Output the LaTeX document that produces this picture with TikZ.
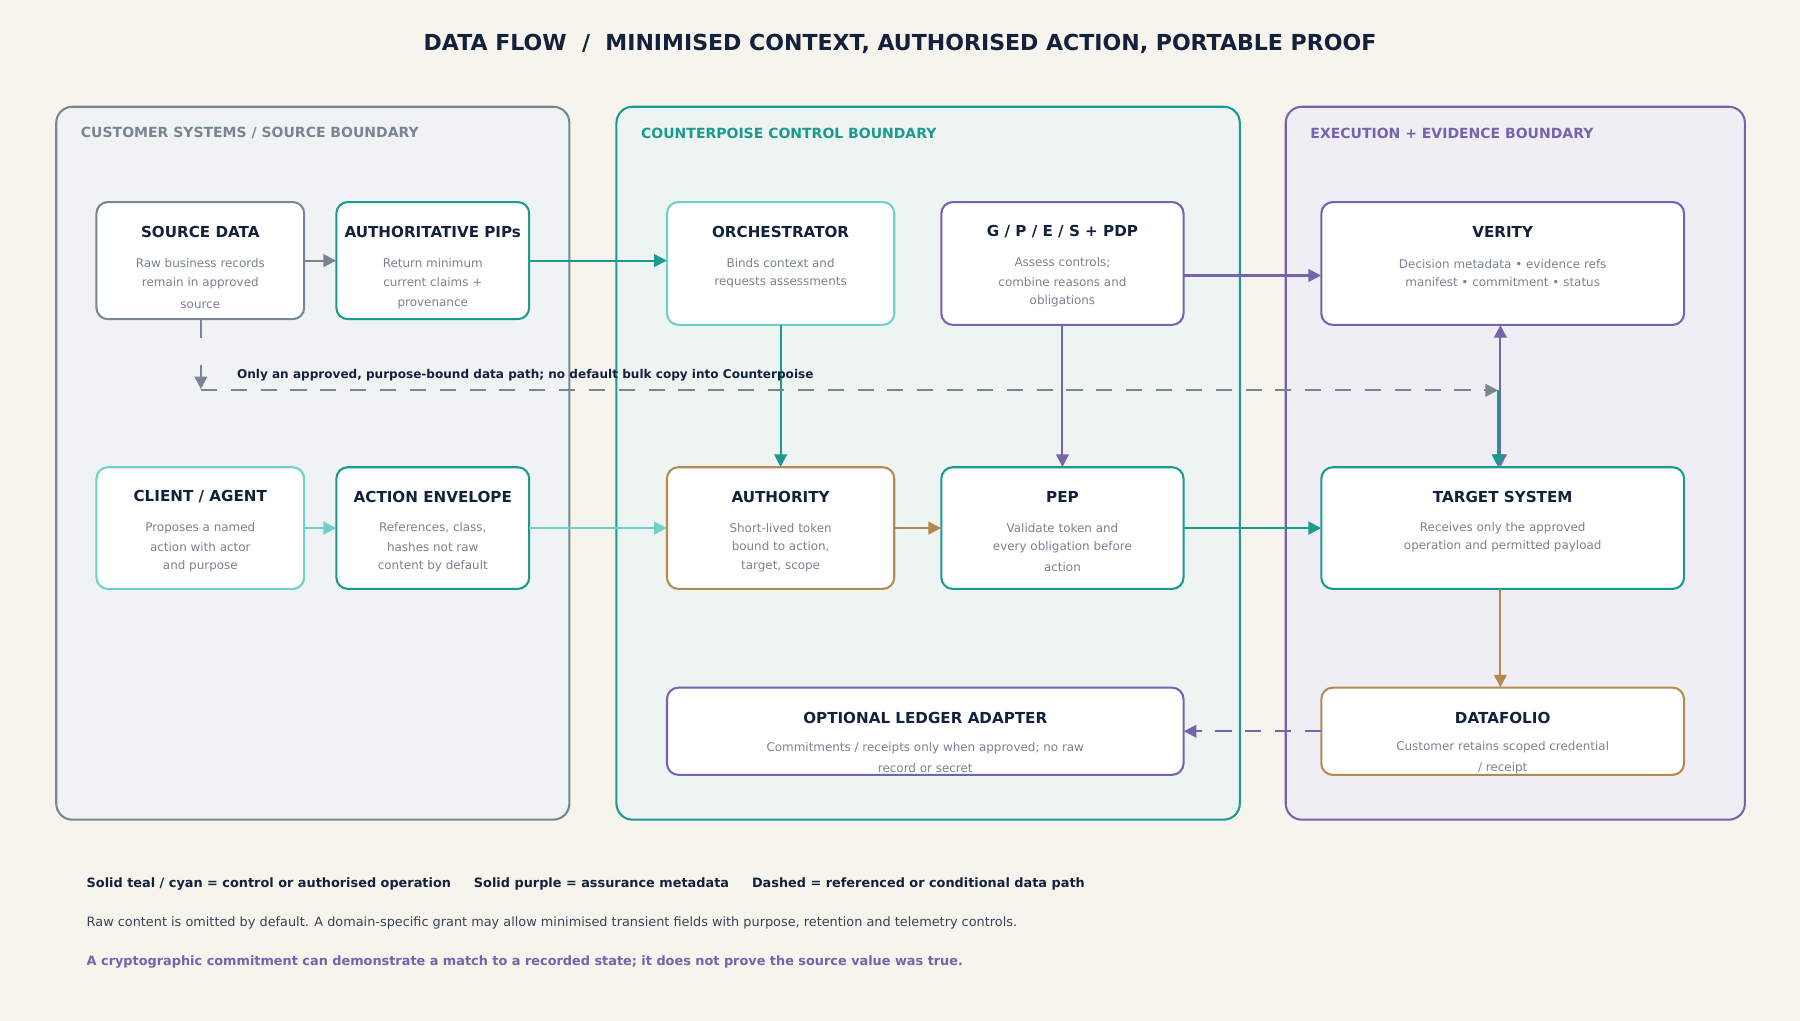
\documentclass[tikz,border=0pt]{standalone}
\usepackage{fontspec}
\setmainfont{DejaVu Sans}
\usetikzlibrary{arrows.meta}
\definecolor{bg}{HTML}{F6F4EC}
\definecolor{navy}{HTML}{14213D}
\definecolor{cgray}{HTML}{7A8594}
\definecolor{cteal}{HTML}{1A9A90}
\definecolor{ccyan}{HTML}{6FD0CB}
\definecolor{cpurp}{HTML}{7563AE}
\definecolor{cbrown}{HTML}{B58A4E}
\definecolor{txtg}{HTML}{7A8290}
\definecolor{f1}{HTML}{EFF3F3}
\definecolor{f2}{HTML}{EEF4F2}
\definecolor{f3}{HTML}{F0EEF5}
\tikzset{
 bound/.style={draw=#1, line width=1.8pt, rounded corners=14pt},
 blabel/.style={anchor=west, text=#1, font=\fontsize{12.2}{14}\selectfont\bfseries},
 box/.style={draw=#1, fill=white, line width=1.8pt, rounded corners=10pt},
 ttl/.style={font=\fontsize{13.2}{15}\selectfont\bfseries, text=navy},
 bdy/.style={font=\fontsize{10.4}{17}\selectfont, text=txtg, align=center},
 arr/.style={line width=1.8pt, draw=#1, -{Triangle[length=11pt,width=11pt]}},
}
\newcommand{\bx}[7]{%
 \path[box=#6] (#2,#3) rectangle (#4,#5);
 \node[inner sep=0, minimum width=#4pt-#2pt, minimum height=#5pt-#3pt] (#1) at ({(#2+#4)/2},{(#3+#5)/2}) {};
 \node[ttl] (#1-t) at ({(#2+#4)/2},{#3+26}) {#7};
}
\begin{document}
\begin{tikzpicture}[x=1pt,y=-1pt]
\fill[bg] (0,0) rectangle (1568,889);
\useasboundingbox (0,0) rectangle (1568,889);
\node[font=\fontsize{19.2}{21}\selectfont\bfseries, text=navy] (title) at (784,38) {DATA FLOW \ / \ MINIMISED CONTEXT, AUTHORISED ACTION, PORTABLE PROOF};

\path[bound=cgray, fill=f1] (49,93) rectangle (496,714);
\path[bound=cteal, fill=f2] (537,93) rectangle (1080,714);
\path[bound=cpurp, fill=f3] (1120,93) rectangle (1520,714);
\node[blabel=cgray] (l1) at (67,116) {CUSTOMER SYSTEMS / SOURCE BOUNDARY};
\node[blabel=cteal] (l2) at (555,116) {COUNTERPOISE CONTROL BOUNDARY};
\node[blabel=cpurp] (l3) at (1138,116) {EXECUTION + EVIDENCE BOUNDARY};

\bx{src}{84}{176}{265}{278}{cgray}{SOURCE DATA}
\node[bdy] (src-b) at (174.5,247) {Raw business records\\[-1pt]remain in approved\\[2pt]source};
\bx{pip}{293}{176}{461}{278}{cteal}{AUTHORITATIVE PIPs}
\node[bdy] (pip-b) at (377,247) {Return minimum\\[0pt]current claims +\\[0pt]provenance};
\bx{orc}{581}{176}{779}{283}{ccyan}{ORCHESTRATOR}
\node[bdy] (orc-b) at (680,238) {Binds context and\\[-1pt]requests assessments};
\bx{gp}{820}{176}{1031}{283}{cpurp}{G / P / E / S + PDP}
\node[bdy] (gp-b) at (925.5,246) {Assess controls;\\[0pt]combine reasons and\\[-1pt]obligations};
\bx{ver}{1151}{176}{1467}{283}{cpurp}{VERITY}
\node[bdy] (ver-b) at (1309,238) {Decision metadata • evidence refs\\[-1pt]manifest • commitment • status};

\bx{cli}{84}{407}{265}{513}{ccyan}{CLIENT / AGENT}
\node[bdy] (cli-b) at (174.5,477) {Proposes a named\\[0pt]action with actor\\[-1pt]and purpose};
\bx{env}{293}{407}{461}{513}{cteal}{ACTION ENVELOPE}
\node[bdy] (env-b) at (377,477) {References, class,\\[0pt]hashes not raw\\[-1pt]content by default};
\bx{aut}{581}{407}{779}{513}{cbrown}{AUTHORITY}
\node[bdy] (aut-b) at (680,477) {Short-lived token\\[-1pt]bound to action,\\[-1pt]target, scope};
\bx{pep}{820}{407}{1031}{513}{cteal}{PEP}
\node[bdy] (pep-b) at (925.5,477) {Validate token and\\[-1pt]every obligation before\\[1pt]action};
\bx{tgt}{1151}{407}{1467}{513}{cteal}{TARGET SYSTEM}
\node[bdy] (tgt-b) at (1309,468) {Receives only the approved\\[-1pt]operation and permitted payload};

\bx{led}{581}{599}{1031}{675}{cpurp}{OPTIONAL LEDGER ADAPTER}
\node[bdy] (led-b) at (806,660) {Commitments / receipts only when approved; no raw\\[1pt]record or secret};
\bx{dfo}{1151}{599}{1467}{675}{cbrown}{DATAFOLIO}
\node[bdy] (dfo-b) at (1309,660) {Customer retains scoped credential\\[1pt]/ receipt};

\draw[arr=cgray] (src.east) -- (pip.west);
\draw[arr=cteal] (pip.east |- 0,227) -- (orc.west |- 0,227);
\draw[arr=cpurp] (gp.east |- 0,240) -- (ver.west |- 0,240);
\draw[arr=cteal] (orc.south) -- (aut.north);
\draw[arr=cpurp] (gp.south) -- (pep.north);
\draw[arr=ccyan] (cli.east) -- (env.west);
\draw[arr=ccyan] (env.east) -- (aut.west);
\draw[arr=cbrown] (aut.east) -- (pep.west);
\draw[arr=cteal, line width=2.4pt] (pep.east) -- (tgt.west);
\draw[arr=cbrown] (tgt.south -| 1307,0) -- (dfo.north -| 1307,0);
\draw[arr=cpurp, dash pattern=on 14pt off 12pt] (dfo.west) -- (led.east);
\draw[line width=1.8pt, draw=cpurp, {Triangle[length=11pt,width=11pt]}-{Triangle[length=11pt,width=11pt]}] (ver.south -| 1307,0) -- (tgt.north -| 1307,0);

\coordinate (d0) at (175,340);
\coordinate (d1) at (1305,340);
\draw[line width=1.8pt, draw=cgray] (src.south -| 175,0) -- (175,294);
\draw[arr=cgray, dash pattern=on 14pt off 12pt] (175,318) -- (175,339);
\draw[arr=cgray, dash pattern=on 14pt off 12pt] (d0) -- (d1);
\draw[arr=cteal] (d1) -- (tgt.north -| 1305,0);
\node[anchor=west, font=\fontsize{10.5}{12}\selectfont\bfseries, text=navy] (dl) at (203,327) {Only an approved, purpose-bound data path; no default bulk copy into Counterpoise};

\node[anchor=west, font=\fontsize{11.2}{13}\selectfont\bfseries, text=navy] (lg1) at (72,770) {Solid teal / cyan = control or authorised operation\hspace{20pt}Solid purple = assurance metadata\hspace{20pt}Dashed = referenced or conditional data path};
\node[anchor=west, font=\fontsize{11.2}{13}\selectfont, text=navy!85] (lg2) at (72,804) {Raw content is omitted by default. A domain-specific grant may allow minimised transient fields with purpose, retention and telemetry controls.};
\node[anchor=west, font=\fontsize{11.2}{13}\selectfont\bfseries, text=cpurp] (lg3) at (72,838) {A cryptographic commitment can demonstrate a match to a recorded state; it does not prove the source value was true.};
\end{tikzpicture}
\end{document}
